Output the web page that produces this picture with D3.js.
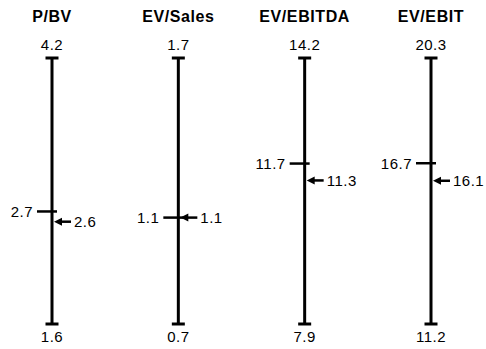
<!DOCTYPE html>
<html>
<head>
<meta charset="utf-8">
<script src="https://cdn.jsdelivr.net/npm/d3@7"></script>
<style>
  html, body { margin: 0; padding: 0; background: #fff; }
  svg { display: block; }
  text { font-family: "Liberation Sans", Arial, sans-serif; fill: #000; }
</style>
</head>
<body>
<svg id="chart" width="486" height="349"></svg>
<script>
// Valuation multiples: range (low–high), peer median and current level
const metrics = ["P/BV", "EV/Sales", "EV/EBITDA", "EV/EBIT"];
const highValues = [4.2, 1.7, 14.2, 20.3];
const lowValues = [1.6, 0.7, 7.9, 11.2];
const medianValues = [2.7, 1.1, 11.7, 16.7];
const currentValues = [2.6, 1.1, 11.3, 16.1];

const svg = d3.select("#chart");
const yTop = 58, yBottom = 324;
const fmt = d3.format(".1f");

const x = d3.scalePoint().domain(metrics).range([52, 431]);

metrics.forEach((m, i) => {
  const cx = x(m);
  const y = d3.scaleLinear().domain([lowValues[i], highValues[i]]).range([yBottom, yTop]);
  const g = svg.append("g");

  // title
  g.append("text")
    .attr("x", cx).attr("y", 22)
    .attr("text-anchor", "middle")
    .style("font-size", "16px").style("font-weight", "bold")
    .style("letter-spacing", "0.6px")
    .text(m);

  // range line with end caps
  g.append("line")
    .attr("x1", cx).attr("x2", cx)
    .attr("y1", y(highValues[i])).attr("y2", y(lowValues[i]))
    .attr("stroke", "#000").attr("stroke-width", 3);
  [highValues[i], lowValues[i]].forEach(v => {
    g.append("line")
      .attr("x1", cx - 6.5).attr("x2", cx + 6.5)
      .attr("y1", y(v)).attr("y2", y(v))
      .attr("stroke", "#000").attr("stroke-width", 3);
  });

  // high / low labels
  g.append("text")
    .attr("x", cx).attr("y", 50)
    .attr("text-anchor", "middle")
    .style("font-size", "15px").style("letter-spacing", "0.5px")
    .text(fmt(highValues[i]));
  g.append("text")
    .attr("x", cx).attr("y", 342)
    .attr("text-anchor", "middle")
    .style("font-size", "15px").style("letter-spacing", "0.5px")
    .text(fmt(lowValues[i]));

  // median tick on the left
  const ym = y(medianValues[i]);
  g.append("line")
    .attr("x1", cx - 15).attr("x2", cx + 5)
    .attr("y1", ym).attr("y2", ym)
    .attr("stroke", "#000").attr("stroke-width", 2.5);
  g.append("text")
    .attr("x", cx - 19).attr("y", ym)
    .attr("dy", "0.36em")
    .attr("text-anchor", "end")
    .style("font-size", "15px").style("letter-spacing", "0.5px")
    .text(fmt(medianValues[i]));

  // current value arrow on the right
  const yc = y(currentValues[i]);
  g.append("line")
    .attr("x1", cx + 8).attr("x2", cx + 19)
    .attr("y1", yc).attr("y2", yc)
    .attr("stroke", "#000").attr("stroke-width", 2.5);
  g.append("path")
    .attr("d", `M${cx + 2},${yc} L${cx + 10},${yc - 4} L${cx + 10},${yc + 4} Z`)
    .attr("fill", "#000");
  g.append("text")
    .attr("x", cx + 22).attr("y", yc)
    .attr("dy", "0.36em")
    .style("font-size", "15px").style("letter-spacing", "0.5px")
    .text(fmt(currentValues[i]));
});
</script>
</body>
</html>
